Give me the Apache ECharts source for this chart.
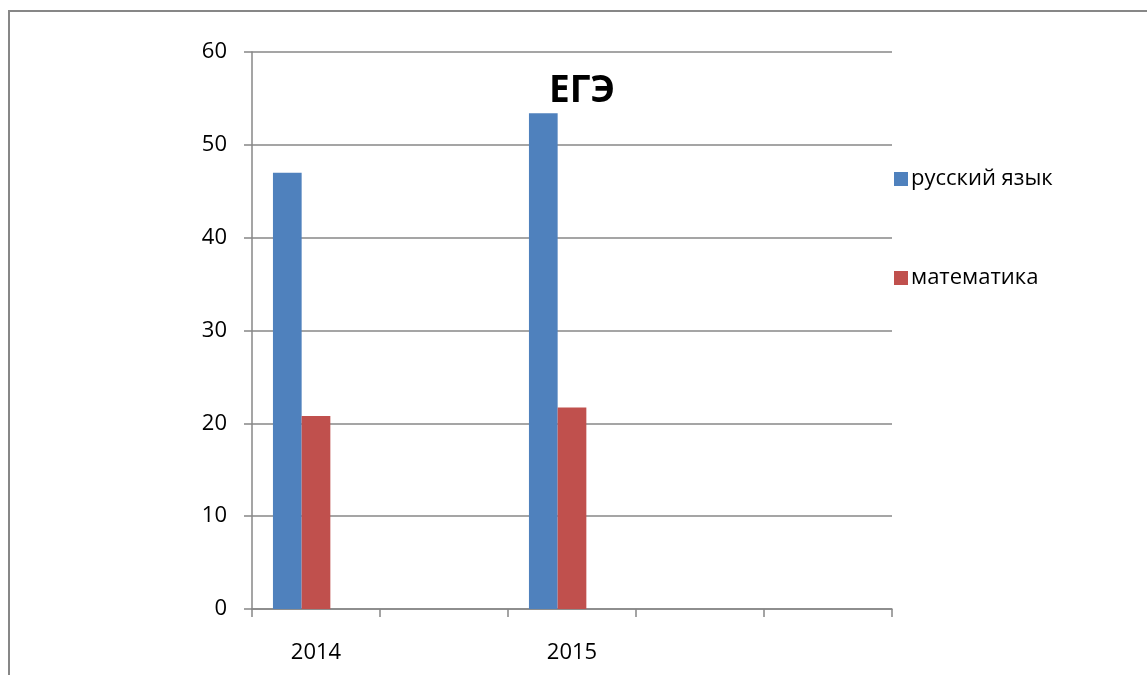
<!DOCTYPE html>
<html>
<head>
<meta charset="utf-8">
<script src="https://cdn.jsdelivr.net/npm/echarts@6/dist/echarts.min.js"></script>
<style>
  html, body { margin: 0; padding: 0; background: #fff; }
  #myChart { width: 1147px; height: 675px; }
</style>
</head>
<body>
<div id="myChart"></div>
<script>
  // данные
  var years = ['2014', ' ', '2015', '  ', '   '];
  var russian = [47, null, 53.4, null, null];
  var math = [20.8, null, 21.7, null, null];
  var empty = [null, null, null, null, null]; // пустой третий ряд, как в Excel
  var yTicks = [0, 10, 20, 30, 40, 50, 60];

  var gray = '#878787';
  var font = '"Open Sans", "Noto Sans", sans-serif';

  var myChart = echarts.init(document.getElementById('myChart'));
  myChart.setOption({
    animation: false,
    color: ['#4f81bd', '#c0504d', '#9bbb59'],
    title: {
      text: 'ЕГЭ',
      left: 577,
      top: 68,
      textAlign: 'center',
      textStyle: { fontFamily: font, fontSize: 37, fontWeight: 'bold', color: '#000' }
    },
    legend: [
      {
        data: ['русский язык'],
        left: 889, top: 163,
        itemWidth: 14, itemHeight: 14, itemGap: 0,
        icon: 'rect',
        textStyle: { fontFamily: font, fontSize: 22, color: '#000', padding: [0, 0, 0, -2] }
      },
      {
        data: ['математика'],
        left: 889, top: 262,
        itemWidth: 14, itemHeight: 14, itemGap: 0,
        icon: 'rect',
        textStyle: { fontFamily: font, fontSize: 22, color: '#000', padding: [0, 0, 0, -2] }
      }
    ],
    graphic: [
      {
        type: 'rect',
        shape: { x: 9, y: 11, width: 1200, height: 720 },
        style: { fill: 'none', stroke: gray, lineWidth: 2 }
      }
    ],
    grid: { left: 252, right: 255, top: 52, bottom: 66 },
    xAxis: {
      type: 'category',
      data: years,
      boundaryGap: true,
      axisLine: { lineStyle: { color: gray, width: 1.5 } },
      axisTick: { show: true, length: 8, lineStyle: { color: gray, width: 1.5 } },
      axisLabel: { fontFamily: font, fontSize: 22, color: '#000', margin: 33, interval: 0 }
    },
    yAxis: {
      type: 'value',
      min: yTicks[0],
      max: yTicks[yTicks.length - 1],
      interval: 10,
      axisLine: { show: true, lineStyle: { color: gray, width: 1.5 } },
      axisTick: { show: true, length: 8, lineStyle: { color: gray, width: 1.5 } },
      axisLabel: { fontFamily: font, fontSize: 22, color: '#000', margin: 25 },
      splitLine: { lineStyle: { color: gray, width: 1.5 } }
    },
    series: [
      { name: 'русский язык', type: 'bar', data: russian, barWidth: 28.7, barGap: 0 },
      { name: 'математика', type: 'bar', data: math, barWidth: 28.7, barGap: 0 },
      { name: '', type: 'bar', data: empty, barWidth: 28.7, barGap: 0 }
    ]
  });
  window.onresize = myChart.resize;
</script>
</body>
</html>
